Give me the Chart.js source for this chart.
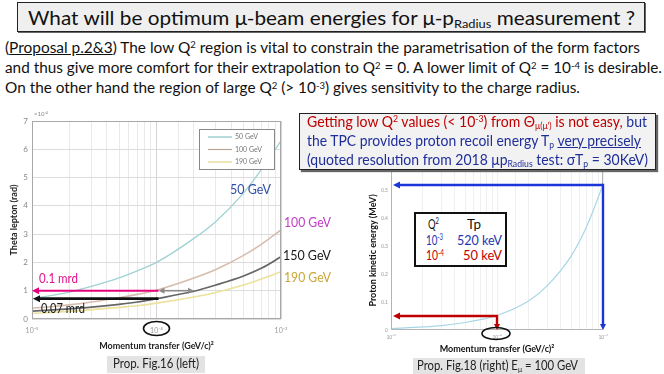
<!DOCTYPE html>
<html><head><meta charset="utf-8">
<script src="https://cdn.jsdelivr.net/npm/chart.js@4.4.1/dist/chart.umd.min.js"></script>
<style>
html,body{margin:0;padding:0;background:#fff;}
body{width:664px;height:374px;position:relative;overflow:hidden;font-family:Lato,"Open Sans",sans-serif;color:#111;}
canvas{position:absolute;}
.t{position:absolute;white-space:nowrap;line-height:1;transform-origin:0 0;}
.box{position:absolute;box-sizing:border-box;}
sup,sub{font-size:0.62em;line-height:0;position:relative;vertical-align:baseline;}
sup{top:-0.48em;} sub{top:0.28em;}
.red{color:#c00000;} .blue{color:#1f2f9a;}
</style>
</head><body>
<canvas id="left" width="300" height="274" style="left:0;top:100px"></canvas>
<canvas id="right" width="270" height="209" style="left:350px;top:165px"></canvas>

<div class="box" style="left:17px;top:2px;width:628px;height:30px;background:#efefef;border:1.5px solid #222;box-shadow:1px 1px 0 #666;"></div>
<div class="t" data-w="607" style="left:28px;top:8px;font-size:19px;">What will be optimum μ-beam energies for μ-p<sub>Radius</sub> measurement ?</div>

<div class="t" data-w="635" style="left:5px;top:39.5px;font-size:15.5px;">(<u>Proposal p.2&amp;3</u>) The low Q<sup>2</sup> region is vital to constrain the parametrisation of the form factors</div>
<div class="t" data-w="657" style="left:5px;top:60.3px;font-size:15.5px;">and thus give more comfort for their extrapolation to Q<sup>2</sup> = 0. A lower limit of Q<sup>2</sup> = 10<sup>-4</sup> is desirable.</div>
<div class="t" data-w="575" style="left:5px;top:80.3px;font-size:15.5px;">On the other hand the region of large Q<sup>2</sup> (&gt; 10<sup>-3</sup>) gives sensitivity to the charge radius.</div>

<div class="box" style="left:299px;top:113px;width:357px;height:57px;background:#f2f2f2;border:1.5px solid #222;box-shadow:2px 2px 1px #666;"></div>
<div class="t" data-w="340" style="left:307px;top:113.7px;font-size:15px;"><span class="red">Getting low Q<sup>2</sup> values (&lt; 10<sup>-3</sup>) from Θ<sub>μ(μ')</sub> is not easy,</span><span class="blue"> but</span></div>
<div class="t blue" data-w="334" style="left:307px;top:132.7px;font-size:15px;">the TPC provides proton recoil energy T<sub>p</sub> <u>very precisely</u></div>
<div class="t blue" data-w="341" style="left:307px;top:151.7px;font-size:15px;">(quoted resolution from 2018 μp<sub>Radius</sub> test: σT<sub>p</sub> = 30KeV)</div>

<div class="t" style="left:34px;top:111px;font-size:6px;color:#888;">×10<sup>-4</sup></div>

<div class="t" data-w="41" style="left:230px;top:181.6px;font-size:14px;color:#3050a8;">50 GeV</div>
<div class="t" data-w="47" style="left:284px;top:214.6px;font-size:14px;color:#c23cc8;">100 GeV</div>
<div class="t" data-w="48" style="left:283px;top:247.6px;font-size:14px;color:#1a1a1a;">150 GeV</div>
<div class="t" data-w="47" style="left:284px;top:269.6px;font-size:14px;color:#c9a638;">190 GeV</div>
<div class="t" data-w="39" style="left:39px;top:271.5px;font-size:13px;color:#e0108a;">0.1 mrd</div>
<div class="t" data-w="44" style="left:41px;top:301.5px;font-size:13px;color:#1a1a1a;">0.07 mrd</div>

<div class="box" style="left:414px;top:212px;width:93px;height:55px;background:#fff;border:2px solid #111;"></div>
<div class="t" data-w="11" style="left:428px;top:216.6px;font-size:14px;">Q<sup>2</sup></div>
<div class="t" data-w="14" style="left:467px;top:216.6px;font-size:14px;">Tp</div>
<div class="t blue" data-w="17" style="left:426px;top:232.6px;font-size:14px;color:#2236b0;">10<sup>-3</sup></div>
<div class="t blue" data-w="45" style="left:457px;top:232.6px;font-size:14px;color:#2236b0;">520 keV</div>
<div class="t red" data-w="18" style="left:426px;top:248.3px;font-size:14px;">10<sup>-4</sup></div>
<div class="t red" data-w="39" style="left:463px;top:248.3px;font-size:14px;">50 keV</div>

<div class="box" style="left:107px;top:356px;width:98px;height:17px;background:#e3e3e3;"></div>
<div class="t" data-w="86" style="left:113px;top:356.8px;font-size:13px;color:#222;">Prop. Fig.16 (left)</div>
<div class="box" style="left:413px;top:358px;width:172px;height:16px;background:#e3e3e3;"></div>
<div class="t" data-w="161" style="left:417px;top:358.8px;font-size:13px;color:#222;">Prop. Fig.18 (right) E<sub>μ</sub> = 100 GeV</div>

<script>
// ---------- data ----------
const q2 = [1e-5, 2e-5, 3e-5, 5e-5, 7e-5, 1e-4, 2e-4, 3e-4, 5e-4, 7e-4, 1e-3];
const theta50  = [0.72, 0.95, 1.15, 1.45, 1.70, 2.00, 2.85, 3.45, 4.45, 5.30, 6.30];
const theta100 = [0.38, 0.50, 0.60, 0.75, 0.87, 1.02, 1.45, 1.75, 2.25, 2.65, 3.15];
const theta150 = [0.28, 0.36, 0.42, 0.52, 0.60, 0.72, 0.98, 1.20, 1.52, 1.80, 2.20];
const theta190 = [0.20, 0.27, 0.33, 0.41, 0.47, 0.56, 0.78, 0.94, 1.20, 1.42, 1.67];
const seriesNames = ['50 GeV', '100 GeV', '150 GeV', '190 GeV'];
const legendNames = ['50 GeV', '100 GeV', '190 GeV'];
const tpMeV = [0.005, 0.011, 0.016, 0.027, 0.037, 0.052, 0.105, 0.16, 0.265, 0.37, 0.52];
const thetaTicks = [0, 1, 2, 3, 4, 5, 6, 7];
const tpTicks = [0, 0.1, 0.2, 0.3, 0.4, 0.5];
// annotation values
const resArrowQ2 = [1e-4, 1e-4];      // start of the resolution arrows
const resArrowTheta = [1.0, 0.72];    // 0.1 mrd and 0.07 mrd levels (x1e-4 rad)
const gapArrowQ2 = [1e-4, 2e-4];
const gapArrowTheta = 1.0;
const markQ2 = [1e-3, 1e-4];
const markTp = [0.52, 0.05];
const circledQ2 = 1e-4;

// ---------- helpers ----------
const SUP = {'-':'⁻','0':'⁰','1':'¹','2':'²','3':'³','4':'⁴','5':'⁵','6':'⁶','7':'⁷','8':'⁸','9':'⁹'};
function isDecade(v){ const l=Math.log10(v); return Math.abs(l-Math.round(l))<1e-6; }
function decLabel(v){ const e=Math.round(Math.log10(v)); return '10'+String(e).split('').map(c=>SUP[c]).join(''); }
function head(ctx,x,y,a,hl,hw){
  ctx.beginPath(); ctx.moveTo(x,y);
  ctx.lineTo(x-hl*Math.cos(a)+hw*Math.sin(a), y-hl*Math.sin(a)-hw*Math.cos(a));
  ctx.lineTo(x-hl*Math.cos(a)-hw*Math.sin(a), y-hl*Math.sin(a)+hw*Math.cos(a));
  ctx.closePath(); ctx.fill();
}
function arrow(ctx,x1,y1,x2,y2,color,lw,hl,hw,both){
  ctx.save(); ctx.strokeStyle=color; ctx.fillStyle=color; ctx.lineWidth=lw;
  const a=Math.atan2(y2-y1,x2-x1);
  const sx = both ? x1+Math.cos(a)*hl*0.8 : x1, sy = both ? y1+Math.sin(a)*hl*0.8 : y1;
  ctx.beginPath(); ctx.moveTo(sx,sy); ctx.lineTo(x2-Math.cos(a)*hl*0.8, y2-Math.sin(a)*hl*0.8); ctx.stroke();
  head(ctx,x2,y2,a,hl,hw); if(both) head(ctx,x1,y1,a+Math.PI,hl,hw);
  ctx.restore();
}
function ellipse(ctx,cx,cy,rx,ry){
  ctx.save(); ctx.strokeStyle='#111'; ctx.lineWidth=1.6; ctx.beginPath();
  ctx.ellipse(cx,cy,rx,ry,0,0,Math.PI*2); ctx.stroke(); ctx.restore();
}
const FONT = 'Lato, "Open Sans", sans-serif';

// ---------- left chart ----------
const leftColors = ['#9fd3d2', '#d6bdae', '#666666', '#ece29c'];
const leftWidths = [1.3, 1.6, 1.7, 1.6];
const leftSeries = [theta50, theta100, theta150, theta190];

const leftDeco = {
  id:'leftDeco',
  afterDatasetsDraw(chart){
    const {ctx, chartArea:ca, scales:{x,y}} = chart;
    ctx.save(); ctx.strokeStyle='#a8a8a8'; ctx.lineWidth=1;
    ctx.strokeRect(ca.left+0.5, ca.top+0.5, ca.right-ca.left-1, ca.bottom-ca.top-1); ctx.restore();
    // resolution arrows
    arrow(ctx, x.getPixelForValue(resArrowQ2[0])+2, y.getPixelForValue(resArrowTheta[0]), ca.left, y.getPixelForValue(resArrowTheta[0]), '#e6007e', 2, 7, 3.5, false);
    arrow(ctx, x.getPixelForValue(resArrowQ2[1])+2, y.getPixelForValue(resArrowTheta[1]), ca.left+1, y.getPixelForValue(resArrowTheta[1]), '#111', 2.6, 7, 3.5, false);
    arrow(ctx, x.getPixelForValue(gapArrowQ2[0])+2, y.getPixelForValue(gapArrowTheta), x.getPixelForValue(gapArrowQ2[1]), y.getPixelForValue(gapArrowTheta), '#8a8a8a', 1.6, 6, 3, true);
    // legend
    const lx = ca.right-82, ly = ca.top+8, lw = 75, lh = 40;
    ctx.save(); ctx.fillStyle='#fff'; ctx.fillRect(lx,ly,lw,lh);
    ctx.strokeStyle='#888'; ctx.lineWidth=1; ctx.strokeRect(lx+0.5,ly+0.5,lw,lh);
    ctx.font = '7px '+FONT; ctx.textBaseline='middle';
    legendNames.forEach((n,i)=>{
      const k = seriesNames.indexOf(n), yy = ly+8+i*12.5;
      ctx.strokeStyle = k===0 ? '#86c4c3' : (k===1 ? '#b8a89c' : '#e2d684'); ctx.lineWidth=1.2;
      ctx.beginPath(); ctx.moveTo(lx+9,yy); ctx.lineTo(lx+33,yy); ctx.stroke();
      ctx.fillStyle='#777'; ctx.fillText(n, lx+36, yy);
    });
    ctx.restore();
    // circled tick label
    ellipse(ctx, x.getPixelForValue(circledQ2), ca.bottom+9.5, 13, 7);
  }
};

new Chart(document.getElementById('left'), {
  type:'line',
  data:{ datasets: leftSeries.map((s,i)=>({
    label: seriesNames[i],
    data: q2.map((v,j)=>({x:v, y:s[j]})),
    borderColor: leftColors[i], borderWidth: leftWidths[i],
    pointRadius:0, cubicInterpolationMode:'monotone', fill:false
  }))},
  options:{
    responsive:false, animation:false, devicePixelRatio:1,
    layout:{padding:{top:21, right:19, left:0, bottom:0}},
    plugins:{legend:{display:false}, tooltip:{enabled:false}},
    scales:{
      x:{ type:'logarithmic', min:1e-5, max:1e-3,
        grid:{ drawTicks:false, color: c => (c.tick && isDecade(c.tick.value)) ? '#d4d4d4' : '#e9e9e9' },
        border:{display:false},
        ticks:{ autoSkip:false, maxRotation:0, minRotation:0, padding:8, color:'#999',
          font:{size:7, family:FONT}, callback:(v)=> isDecade(v) ? decLabel(v) : '' },
        title:{ display:true, text:'Momentum transfer (GeV/c)²', color:'#222',
          font:{size:9, weight:'bold', family:FONT}, padding:{top:0, bottom:22.6} },
        afterFit: s => { s.height = 55; }
      },
      y:{ min:0, max:7,
        afterBuildTicks: s => { s.ticks = thetaTicks.map(v=>({value:v})); },
        grid:{ drawTicks:false, color:'#dcdcdc' },
        border:{display:false},
        ticks:{ padding:4, color:'#888', font:{size:8, family:FONT} },
        title:{ display:true, text:'Theta lepton (rad)', color:'#222',
          font:{size:9, weight:'bold', family:FONT}, padding:{top:8.6, bottom:0} },
        afterFit: s => { s.width = 32; }
      }
    }
  },
  plugins:[leftDeco]
});

// ---------- right chart ----------
const rightDeco = {
  id:'rightDeco',
  afterDatasetsDraw(chart){
    const {ctx, chartArea:ca, scales:{x,y}} = chart;
    ctx.save(); ctx.strokeStyle='#b4b4b4'; ctx.lineWidth=1;
    ctx.beginPath();
    ctx.moveTo(ca.left+0.5, ca.top); ctx.lineTo(ca.left+0.5, ca.bottom-0.5); ctx.lineTo(ca.right-0.5, ca.bottom-0.5); ctx.lineTo(ca.right-0.5, ca.top);
    ctx.stroke(); ctx.restore();
    const colors = ['#1a35d8', '#c00000'];
    markQ2.forEach((q,i)=>{
      const px = x.getPixelForValue(q), py = y.getPixelForValue(markTp[i]);
      arrow(ctx, px, py, ca.left+2, py, colors[i], 2.4, 7, 3.5, false);
      arrow(ctx, px, py-1.2, px, y.getPixelForValue(0), colors[i], 2.4, 6, 3, false);
    });
    ellipse(ctx, x.getPixelForValue(circledQ2)-1, ca.bottom+3.5, 14, 6);
  }
};

new Chart(document.getElementById('right'), {
  type:'line',
  data:{ datasets:[{ label:'Tp', data: q2.map((v,j)=>({x:v, y:tpMeV[j]})),
    borderColor:'#a9d6e6', borderWidth:1.2, pointRadius:0, cubicInterpolationMode:'monotone', fill:false }]},
  options:{
    responsive:false, animation:false, devicePixelRatio:1,
    layout:{padding:{top:6, right:17, left:0, bottom:0}},
    plugins:{legend:{display:false}, tooltip:{enabled:false}},
    scales:{
      x:{ type:'logarithmic', min:1e-5, max:1e-3,
        grid:{ drawTicks:false, color:'#f0f0f0' },
        border:{display:false},
        ticks:{ autoSkip:false, maxRotation:0, minRotation:0, padding:4, color:'#999',
          font:{size:5, family:FONT}, callback:(v)=> isDecade(v) ? decLabel(v) : '' },
        title:{ display:true, text:'Momentum transfer (GeV/c)²', color:'#111',
          font:{size:9, weight:'bold', family:FONT}, padding:{top:0, bottom:19.6} },
        afterFit: s => { s.height = 44; }
      },
      y:{ min:0, max:0.57,
        afterBuildTicks: s => { s.ticks = tpTicks.map(v=>({value:v})); },
        grid:{ drawTicks:false, drawOnChartArea:false },
        border:{display:false},
        ticks:{ padding:3, color:'#999', font:{size:5, family:FONT} },
        title:{ display:true, text:'Proton kinetic energy (MeV)', color:'#111',
          font:{size:9, weight:'bold', family:FONT}, padding:{top:17.6, bottom:0} },
        afterFit: s => { s.width = 41; }
      }
    }
  },
  plugins:[rightDeco]
});

// ---------- fit slide text widths ----------
document.querySelectorAll('.t[data-w]').forEach(el=>{
  const w = el.getBoundingClientRect().width;
  if (w>0) el.style.transform = 'scaleX(' + (parseFloat(el.dataset.w)/w) + ')';
});
</script>
</body></html>
